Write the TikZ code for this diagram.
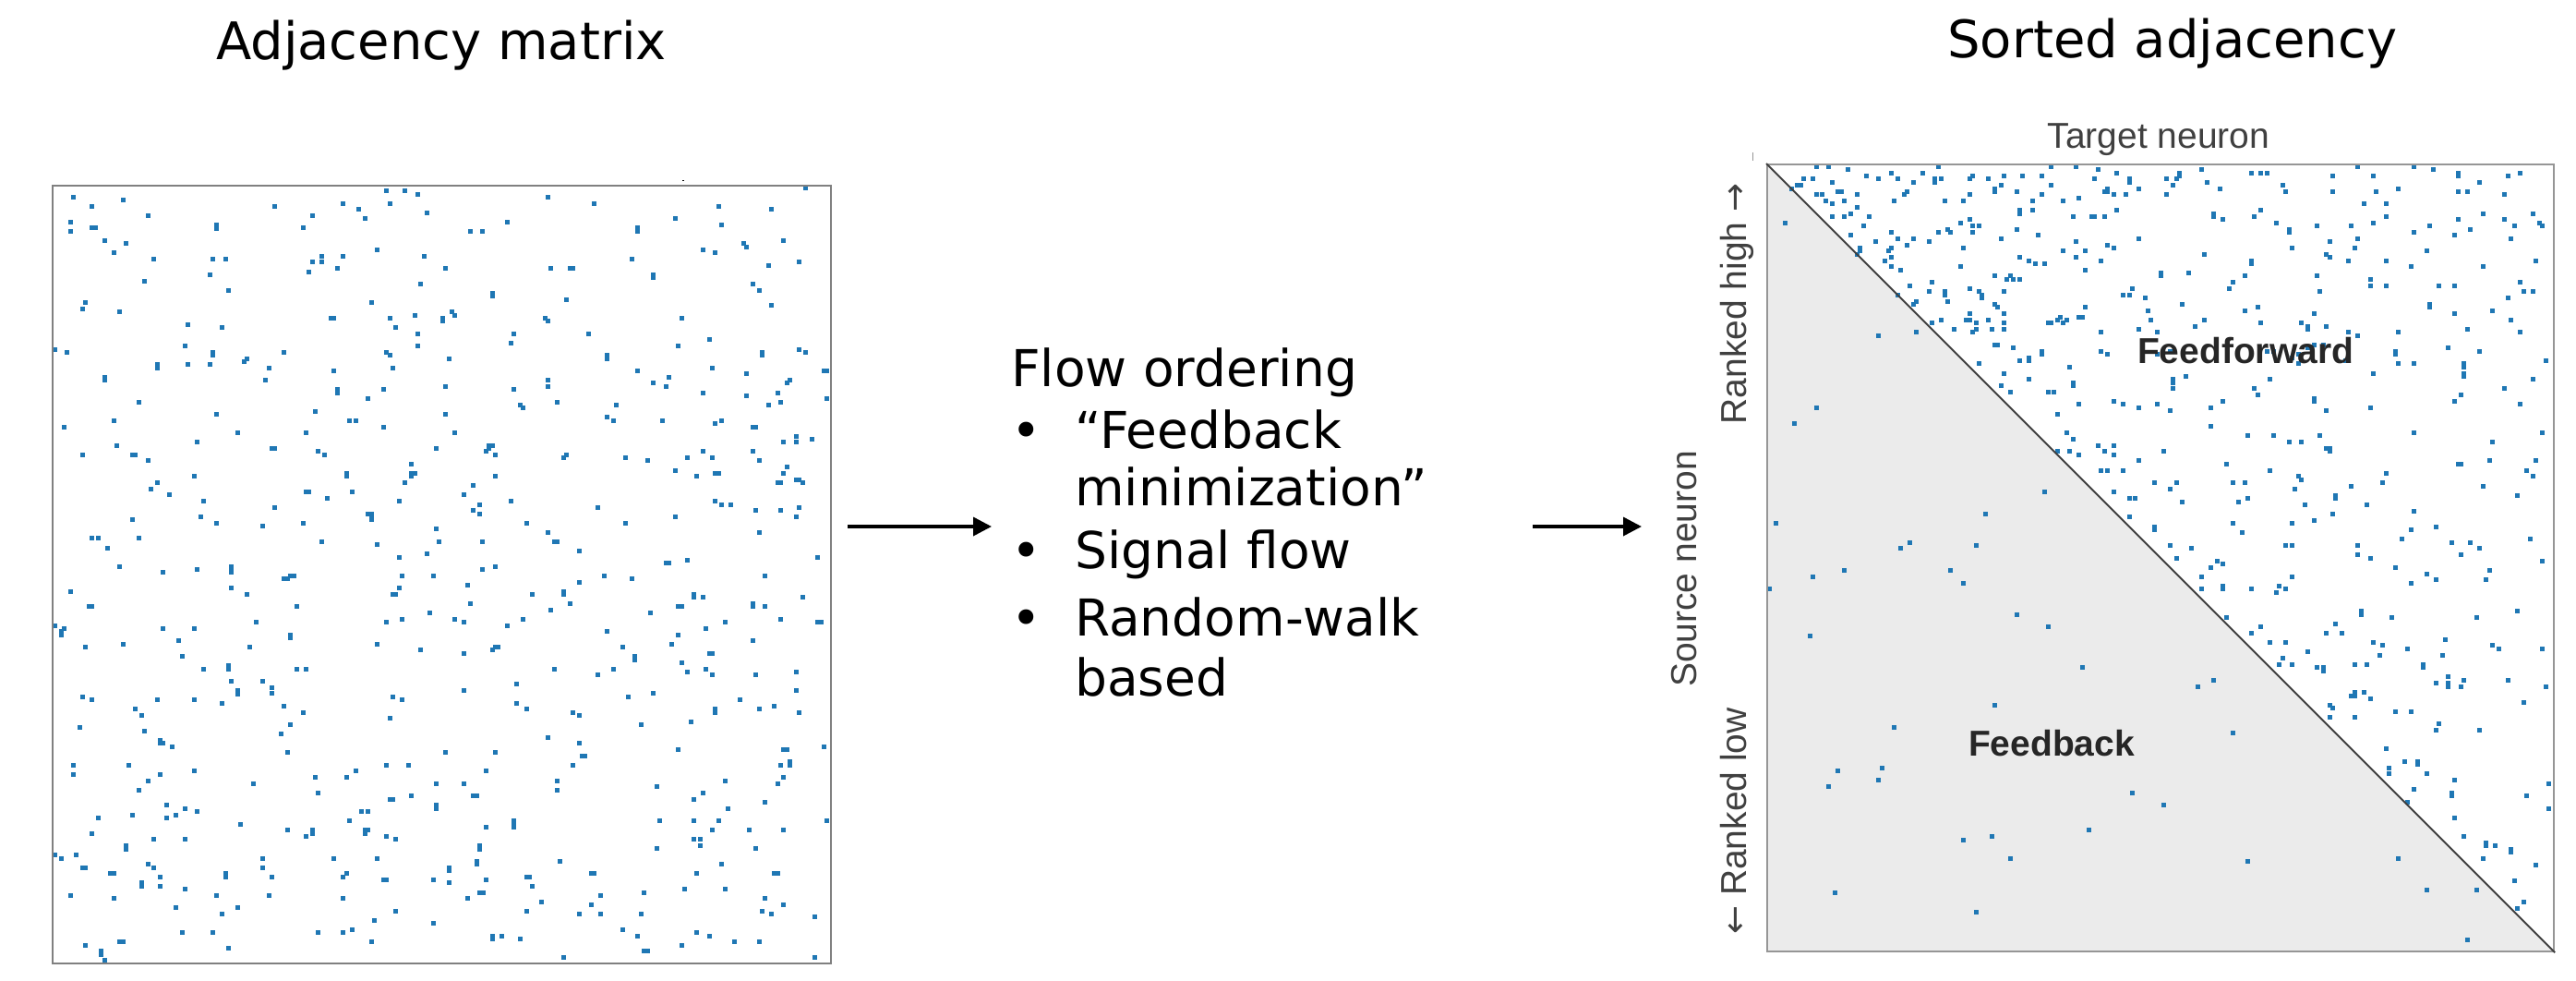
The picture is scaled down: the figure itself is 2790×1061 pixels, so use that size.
\documentclass[tikz,border=0pt]{standalone}
\usepackage{fontspec}
\setmainfont{DejaVu Sans}
\newfontfamily\arialfont{Liberation Sans}
\newfontfamily\djvfont{DejaVu Sans}
\usetikzlibrary{arrows.meta}
\definecolor{dotblue}{RGB}{31,119,180}
\definecolor{framegray}{RGB}{128,128,128}
\definecolor{frametwo}{RGB}{150,150,150}
\definecolor{trigray}{RGB}{235,235,235}
\definecolor{diaggray}{RGB}{64,64,64}
\definecolor{labgray}{RGB}{64,64,64}
\definecolor{boldgray}{RGB}{38,38,38}
\newcommand{\axarrow}[1]{{\djvfont\fontsize{37}{44}\selectfont #1}}
\begin{document}
\begin{tikzpicture}[x=1pt,y=-1pt,
  titletext/.style={inner sep=0pt, font=\fontsize{56}{67}\selectfont},
  midtext/.style={inner sep=0pt, anchor=base west, font=\fontsize{55}{66}\selectfont},
  axlab/.style={inner sep=0pt, text=labgray, font=\arialfont\fontsize{39}{47}\selectfont},
  regionlab/.style={inner sep=0pt, anchor=base, text=boldgray, font=\arialfont\bfseries\fontsize{39}{47}\selectfont},
  flowarrow/.style={line width=3.5pt, -{Triangle[length=20pt,width=20pt]}},
  matbox/.style={draw=framegray, line width=2.2pt, inner sep=0pt, minimum width=843pt, minimum height=842pt, anchor=north west},
  sortbox/.style={draw=frametwo, line width=2.2pt, inner sep=0pt, minimum width=852pt, minimum height=852pt, anchor=north west},
  entry/.style={fill=dotblue},
]
\useasboundingbox (0,0) rectangle (2790,1061);

% ---------- titles ----------
\node[titletext, anchor=base] (tadj) at (478,64) {Adjacency matrix};
\node[titletext, anchor=base west] (tsort) at (2109,62) {Sorted adjacency};

% ---------- left adjacency matrix ----------
\pgfmathsetseed{2718}
\foreach \k in {1,...,470}{
  \pgfmathtruncatemacro\ci{random(0,249)}
  \pgfmathtruncatemacro\ri{random(0,249)}
  \fill[entry] ({56.8+\ci*3.36},{200.8+\ri*3.36}) rectangle ++(5,5);
}
\foreach \k in {1,...,35}{
  \pgfmathtruncatemacro\ci{random(0,248)}
  \pgfmathtruncatemacro\ri{random(0,249)}
  \fill[entry] ({56.8+\ci*3.36},{200.8+\ri*3.36}) rectangle ++(8.4,5);
}
\foreach \k in {1,...,35}{
  \pgfmathtruncatemacro\ci{random(0,249)}
  \pgfmathtruncatemacro\ri{random(0,248)}
  \fill[entry] ({56.8+\ci*3.36},{200.8+\ri*3.36}) rectangle ++(5,8.4);
}
\node[matbox] (adj) at (56,200) {};
\draw[black, line width=1pt] (739,195.5) -- (741,195.5);

% ---------- arrows ----------
\coordinate (a1s) at (918,570);
\coordinate (a1e) at (1074,570);
\coordinate (a2s) at (1660,570);
\coordinate (a2e) at (1778,570);
\draw[flowarrow] (a1s) -- (a1e);
\draw[flowarrow] (a2s) -- (a2e);

% ---------- middle text ----------
\node[midtext] (flow) at (1095,418) {Flow ordering};
\node[midtext] (bul1) at (1095,485) {•};
\node[midtext] (fb1) at (1164,485) {“Feedback};
\node[midtext] (fb2) at (1164,547) {minimization”};
\node[midtext] (bul2) at (1095,615) {•};
\node[midtext] (sig) at (1164,615) {Signal flow};
\node[midtext] (bul3) at (1095,688) {•};
\node[midtext] (rw1) at (1164,688) {Random-walk};
\node[midtext] (rw2) at (1164,753) {based};

% ---------- sorted adjacency ----------
\fill[trigray] (1913,177) -- (2765,1029) -- (1913,1029) -- cycle;
\pgfmathsetseed{31415}
% uniform upper triangle
\foreach \k in {1,...,320}{
  \pgfmathtruncatemacro\aa{random(0,249)}
  \pgfmathtruncatemacro\bb{random(0,249)}
  \pgfmathtruncatemacro\rr{min(\aa,\bb)}
  \pgfmathtruncatemacro\cc{max(\aa,\bb)}
  \fill[entry] ({1913.8+\cc*3.39},{177.8+\rr*3.39}) rectangle ++(5,5);
}
% near diagonal
\foreach \k in {1,...,50}{
  \pgfmathtruncatemacro\rr{random(0,170)}
  \pgfmathtruncatemacro\cc{min(249,\rr+random(2,24))}
  \fill[entry] ({1913.8+\cc*3.39},{177.8+\rr*3.39}) rectangle ++(5,5);
}
% dense top-left block
\foreach \k in {1,...,70}{
  \pgfmathtruncatemacro\rr{random(0,60)}
  \pgfmathtruncatemacro\cc{min(249,\rr+random(1,90))}
  \fill[entry] ({1913.8+\cc*3.39},{177.8+\rr*3.39}) rectangle ++(5,5);
}
% top rows
\foreach \k in {1,...,35}{
  \pgfmathtruncatemacro\rr{random(0,12)}
  \pgfmathtruncatemacro\cc{random(\rr+1,249)}
  \fill[entry] ({1913.8+\cc*3.39},{177.8+\rr*3.39}) rectangle ++(5,5);
}
% pairs in upper triangle
\foreach \k in {1,...,30}{
  \pgfmathtruncatemacro\aa{random(0,248)}
  \pgfmathtruncatemacro\bb{random(0,248)}
  \pgfmathtruncatemacro\rr{min(\aa,\bb)}
  \pgfmathtruncatemacro\cc{max(\aa,\bb)+1}
  \fill[entry] ({1913.8+\cc*3.39},{177.8+\rr*3.39}) rectangle ++(5,8.4);
}
% feedback entries (lower triangle)
\foreach \k in {1,...,42}{
  \pgfmathtruncatemacro\aa{random(0,249)}
  \pgfmathtruncatemacro\bb{random(0,249)}
  \pgfmathtruncatemacro\rr{max(\aa,\bb)}
  \pgfmathtruncatemacro\cc{max(0,min(\aa,\bb)-4)}
  \fill[entry] ({1913.8+\cc*3.39},{177.8+\rr*3.39}) rectangle ++(5,5);
}
\node[sortbox] (sorted) at (1913,177) {};
\draw[diaggray, line width=2pt] (sorted.north west) -- (sorted.south east);
\draw[frametwo, line width=1pt] (1898,165) -- (1898,174);

% ---------- labels of sorted matrix ----------
\node[axlab, anchor=base] (target) at (2338,160) {Target neuron};
\node[axlab, rotate=90, anchor=base] (source) at (1837,616) {Source neuron};
\node[axlab, rotate=90, anchor=base] (rhigh) at (1891,329) {Ranked high \axarrow{→}};
\node[axlab, rotate=90, anchor=base] (rlow) at (1891,889) {\axarrow{←} Ranked low};
\node[regionlab] (ff) at (2432,393) {Feedforward};
\node[regionlab] (fbk) at (2222,818) {Feedback};
\end{tikzpicture}
\end{document}
